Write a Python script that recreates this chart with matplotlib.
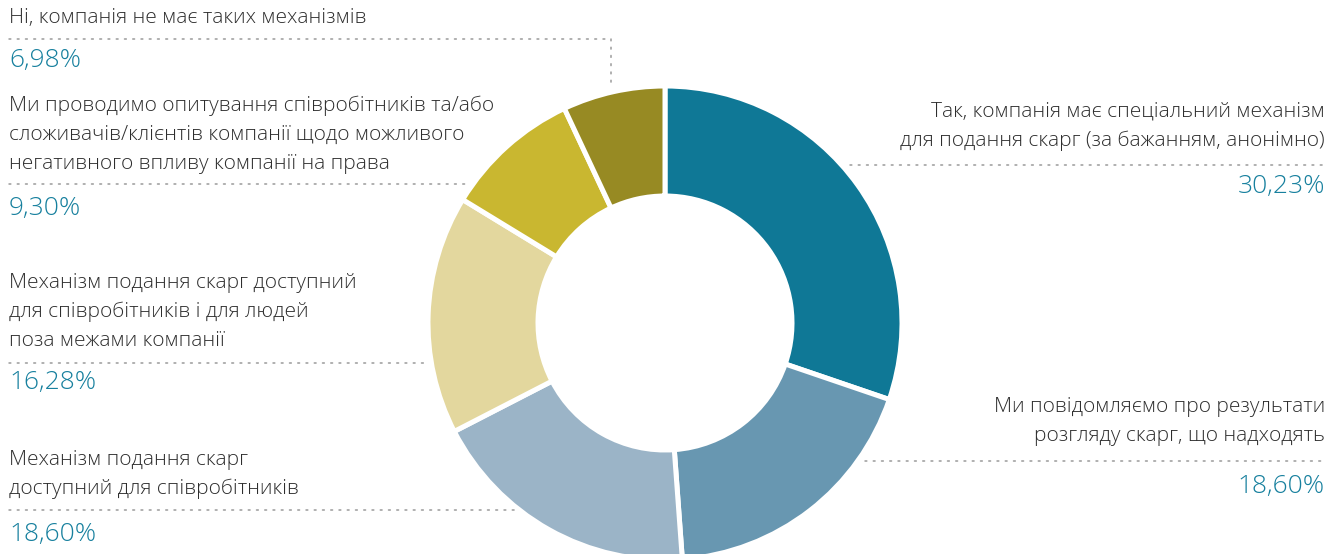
import matplotlib
matplotlib.use("Agg")
import matplotlib.pyplot as plt

# share of answers, clockwise from twelve o'clock
labels = [
    "Так, компанія має спеціальний механізм\nдля подання скарг (за бажанням, анонімно)",
    "Ми повідомляємо про результати\nрозгляду скарг, що надходять",
    "Механізм подання скарг\nдоступний для співробітників",
    "Механізм подання скарг доступний\nдля співробітників і для людей\nпоза межами компанії",
    "Ми проводимо опитування співробітників та/або\nсложивачів/клієнтів компанії щодо можливого\nнегативного впливу компанії на права",
    "Ні, компанія не має таких механізмів",
]
values = [30.23, 18.60, 18.60, 16.28, 9.30, 6.98]
colors = ["#0f7896", "#6897b1", "#9bb4c7", "#e3d79e", "#c9b730", "#978a23"]

W, H = 1340, 554
plt.rcParams["font.family"] = ["Open Sans", "DejaVu Sans"]

fig = plt.figure(figsize=(W / 100, H / 100), dpi=100)
ax = fig.add_axes([0, 0, 1, 1])


def py(y):
    # pixel rows count from the top
    return H - y


cx, cy, r_out, ring = 665, py(323), 237, 110
ax.pie(values, colors=colors, startangle=90, counterclock=False,
       center=(cx, cy), radius=r_out, frame=True,
       wedgeprops=dict(width=ring, edgecolor="white", linewidth=3.6))
ax.set_xlim(0, W)
ax.set_ylim(0, H)
ax.set_aspect("equal")
ax.axis("off")

txt_color = "#2e2e2e"
pct_color = "#17809e"
dot_color = "#9a9a9a"
dots = (0, (1.2, 4.2))

# layout per slice: x anchor, alignment, first text line centre, percentage centre,
# dotted leader (x0, x1, y)
layout = [
    (1325, "right", 112, 186, (850, 1325, 165)),
    (1325, "right", 407, 487, (865, 1325, 461)),
    (9, "left", 460, 535, (9, 517, 510)),
    (9, "left", 283, 383, (9, 424, 363)),
    (9, "left", 106, 208, (9, 467, 184)),
    (9, "left", 18, 61, (9, 611, 39)),
]

for lab, val, (x, ha, y0, yp, (lx0, lx1, ly)) in zip(labels, values, layout):
    lines = lab.split("\n")
    step = 28.5 if len(lines) == 2 else 29
    for i, line in enumerate(lines):
        ax.text(x, py(y0 + i * step), line, ha=ha, va="center",
                fontsize=15, color=txt_color, fontweight="light")
    pct = f"{val:.2f}".replace(".", ",") + "%"
    ax.text(x, py(yp), pct, ha=ha, va="center", fontsize=19,
            color=pct_color, fontweight="light")
    ax.plot([lx0, lx1], [py(ly), py(ly)], color=dot_color, lw=1.1,
            linestyle=dots, dash_capstyle="round")

# the smallest slice gets a drop from its leader to the ring
ax.plot([611, 611], [py(39), py(88)], color=dot_color, lw=1.1,
        linestyle=dots, dash_capstyle="round")

fig.savefig("out.png", dpi=100, facecolor="white")
